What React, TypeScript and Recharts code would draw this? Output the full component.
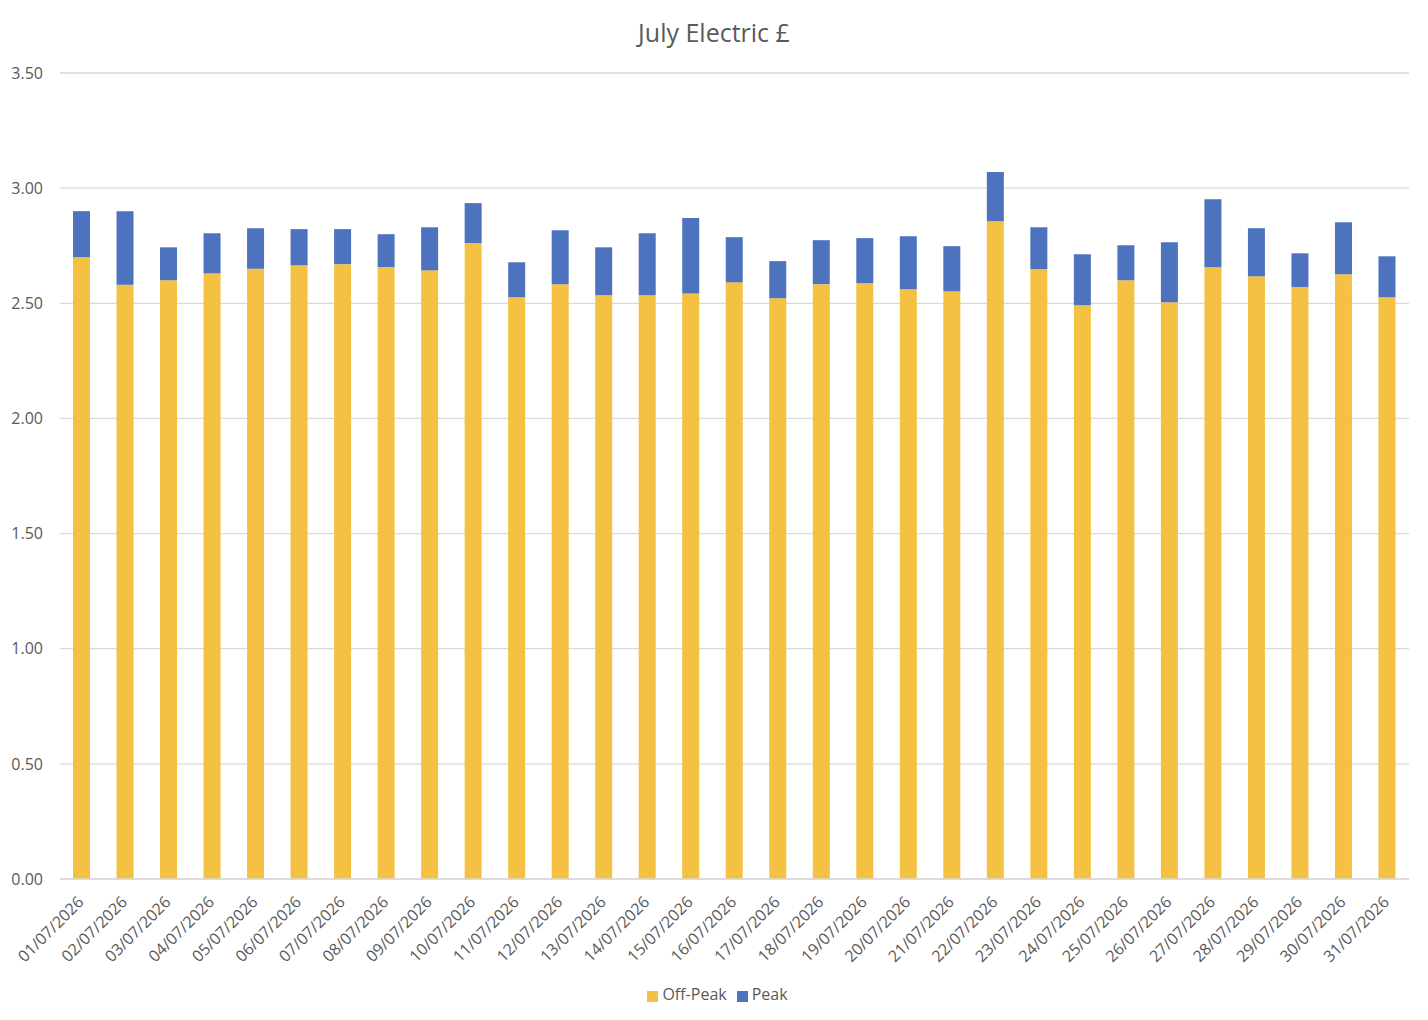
import React from "react";
import { BarChart, Bar, XAxis, YAxis, CartesianGrid, Legend } from "recharts";

const dates = [
  "01/07/2026", "02/07/2026", "03/07/2026", "04/07/2026", "05/07/2026", "06/07/2026", "07/07/2026",
  "08/07/2026", "09/07/2026", "10/07/2026", "11/07/2026", "12/07/2026", "13/07/2026", "14/07/2026",
  "15/07/2026", "16/07/2026", "17/07/2026", "18/07/2026", "19/07/2026", "20/07/2026", "21/07/2026",
  "22/07/2026", "23/07/2026", "24/07/2026", "25/07/2026", "26/07/2026", "27/07/2026", "28/07/2026",
  "29/07/2026", "30/07/2026", "31/07/2026",
];

const offPeak = [
  2.70, 2.58, 2.60, 2.63, 2.65, 2.665, 2.67, 2.657, 2.643, 2.761,
  2.526, 2.583, 2.535, 2.535, 2.543, 2.591, 2.522, 2.583, 2.587, 2.561,
  2.552, 2.857, 2.648, 2.491, 2.60, 2.504, 2.657, 2.617, 2.570, 2.626, 2.526,
];

const peak = [
  0.20, 0.32, 0.143, 0.174, 0.176, 0.157, 0.152, 0.143, 0.187, 0.174,
  0.152, 0.234, 0.208, 0.269, 0.327, 0.196, 0.161, 0.191, 0.196, 0.230,
  0.196, 0.213, 0.182, 0.222, 0.152, 0.261, 0.295, 0.209, 0.147, 0.226, 0.178,
];

const yTicks = [0, 0.5, 1, 1.5, 2, 2.5, 3, 3.5];

const data = dates.map((d, i) => ({ date: d, offPeak: offPeak[i], peak: peak[i] }));

const FONT = "'Open Sans', Lato, sans-serif";
const TEXT = "#595959";

const XTick = (props: any) => {
  const { x, y, payload } = props;
  return (
    <g transform={`translate(${x + 3},${y + 16})`}>
      <text
        x={0}
        y={0}
        textAnchor="end"
        transform="rotate(-45)"
        fill={TEXT}
        fontSize={16}
        fontFamily={FONT}
      >
        {payload.value}
      </text>
    </g>
  );
};

export default function App() {
  return (
    <div style={{ position: "absolute", left: 0, top: 0, width: 1428, height: 1020, background: "#fff" }}>
      <div
        style={{
          position: "absolute",
          top: 15,
          left: 0,
          width: 1428,
          textAlign: "center",
          fontFamily: FONT,
          fontSize: 25,
          lineHeight: "34px",
          color: TEXT,
        }}
      >
        July Electric £
      </div>
      <BarChart
        width={1428}
        height={1020}
        data={data}
        margin={{ top: 73, right: 19, left: 0, bottom: 13 }}
        barSize={17}
      >
        <CartesianGrid vertical={false} stroke="#d9d9d9" strokeWidth={1.3} />
        <XAxis
          dataKey="date"
          interval={0}
          tickLine={false}
          axisLine={{ stroke: "#d9d9d9", strokeWidth: 1.3 }}
          height={103}
          tick={<XTick />}
        />
        <YAxis
          domain={[0, 3.5]}
          ticks={yTicks}
          width={60}
          tickLine={false}
          axisLine={false}
          tickFormatter={(v: number) => v.toFixed(2)}
          tick={{ fill: TEXT, fontSize: 16, fontFamily: FONT }}
          tickMargin={11}
        />
        <Legend
          verticalAlign="bottom"
          align="center"
          iconType="square"
          iconSize={11}
          formatter={(value: string) => (
            <span style={{ color: TEXT, fontSize: 16, fontFamily: FONT }}>{value}</span>
          )}
          wrapperStyle={{ lineHeight: "24px", left: 18 }}
        />
        <Bar dataKey="offPeak" name="Off-Peak" stackId="a" fill="#F4C143" isAnimationActive={false} />
        <Bar dataKey="peak" name="Peak" stackId="a" fill="#4D72BE" isAnimationActive={false} />
      </BarChart>
    </div>
  );
}
